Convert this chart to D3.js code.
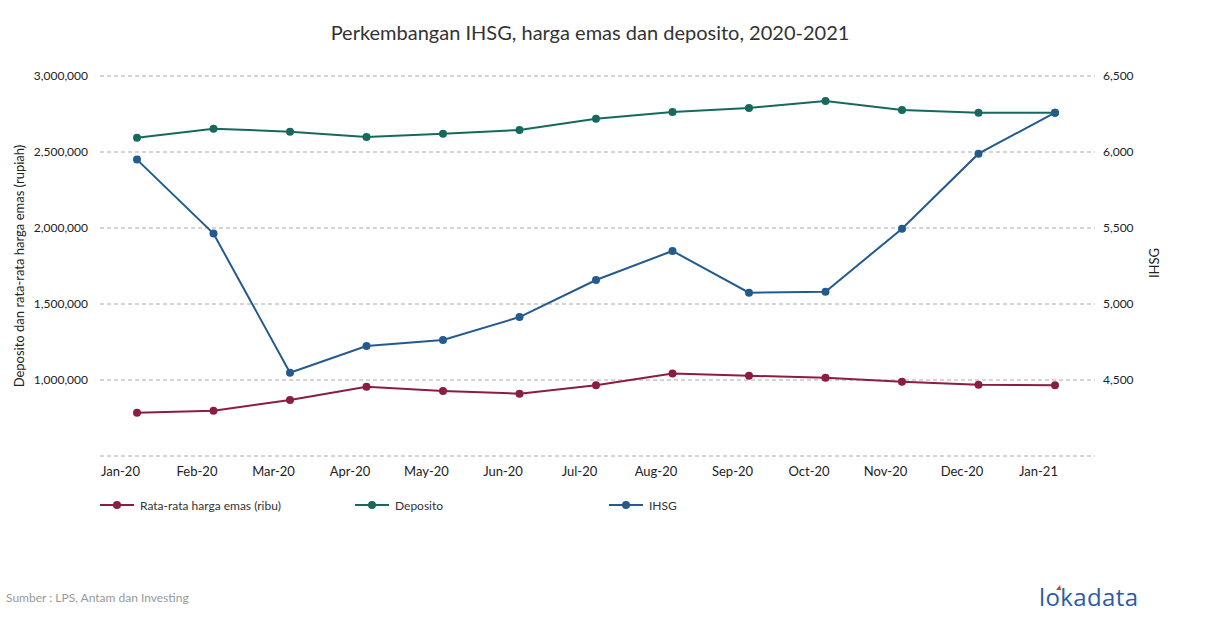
<!DOCTYPE html>
<html><head><meta charset="utf-8">
<script src="https://cdn.jsdelivr.net/npm/d3@7"></script>
<style>
body{margin:0;background:#fff;}
svg{font-family:Lato,"Open Sans",sans-serif;}
</style></head>
<body><svg id="c" width="1210" height="628"></svg>
<script>
const months = ["Jan-20","Feb-20","Mar-20","Apr-20","May-20","Jun-20","Jul-20","Aug-20","Sep-20","Oct-20","Nov-20","Dec-20","Jan-21"];
const emas = [785000,798000,868000,956000,928000,910000,965000,1042000,1028000,1015000,989000,969000,966000];
const deposito = [2594000,2653000,2634000,2599000,2620000,2645000,2719000,2763000,2790000,2836000,2776000,2759000,2758000];
const ihsg = [5950,5463,4548,4724,4763,4914,5158,5349,5074,5081,5495,5989,6259];
const leftTicks = [500000,1000000,1500000,2000000,2500000,3000000];
const rightTicks = [4000,4500,5000,5500,6000,6500];
const colors = {emas:"#8b1d41", deposito:"#17695e", ihsg:"#245b8f"};

const svg = d3.select("#c");
const x = d3.scalePoint().domain(months).range([137,1055]);
const yL = d3.scaleLinear().domain([500000,3000000]).range([456,76]);
const yR = d3.scaleLinear().domain([4000,6500]).range([456,76]);
const fmt = d3.format(",");

// title
svg.append("text").attr("x",590).attr("y",40).attr("text-anchor","middle")
  .attr("font-size",20).attr("fill","#333").text("Perkembangan IHSG, harga emas dan deposito, 2020-2021");

// grid
svg.append("g").selectAll("line").data(leftTicks).join("line")
  .attr("x1",100).attr("x2",1095).attr("y1",d=>yL(d)).attr("y2",d=>yL(d))
  .attr("stroke","#aaa").attr("stroke-dasharray","4,3").attr("stroke-width",1);

// left axis
const gL = svg.append("g").attr("transform","translate(100,0)")
  .call(d3.axisLeft(yL).tickValues(leftTicks).tickSize(0).tickPadding(12).tickFormat(d=>d===500000?"":fmt(d)));
gL.select(".domain").remove();
gL.selectAll("text").attr("font-size",12).attr("fill","#222").attr("font-family","Lato");

// right axis
const gR = svg.append("g").attr("transform","translate(1095,0)")
  .call(d3.axisRight(yR).tickValues(rightTicks).tickSize(0).tickPadding(8).tickFormat(d=>d===4000?"":fmt(d)));
gR.select(".domain").remove();
gR.selectAll("text").attr("font-size",12).attr("fill","#222").attr("font-family","Lato");

// x axis
const gX = svg.append("g").attr("transform","translate(-17,456)")
  .call(d3.axisBottom(x).tickSize(0).tickPadding(11));
gX.select(".domain").remove();
gX.selectAll("text").attr("font-size",13).attr("fill","#222").attr("font-family","Lato");

// axis titles
svg.append("text").attr("transform","translate(24,266) rotate(-90)").attr("text-anchor","middle")
  .attr("font-size",13).attr("fill","#222").text("Deposito dan rata-rata harga emas (rupiah)");
svg.append("text").attr("transform","translate(1159,263) rotate(-90)").attr("text-anchor","middle")
  .attr("font-size",13).attr("fill","#222").text("IHSG");

function series(vals, y, color){
  const line = d3.line().x((d,i)=>x(months[i])).y(d=>y(d));
  svg.append("path").datum(vals).attr("d",line).attr("fill","none")
    .attr("stroke",color).attr("stroke-width",2);
  svg.append("g").selectAll("circle").data(vals).join("circle")
    .attr("cx",(d,i)=>x(months[i])).attr("cy",d=>y(d)).attr("r",4).attr("fill",color);
}
series(emas, yL, colors.emas);
series(deposito, yL, colors.deposito);
series(ihsg, yR, colors.ihsg);

// legend
const legend = [
  {label:"Rata-rata harga emas (ribu)", color:colors.emas, x:100},
  {label:"Deposito", color:colors.deposito, x:355},
  {label:"IHSG", color:colors.ihsg, x:609}
];
const lg = svg.append("g").selectAll("g").data(legend).join("g")
  .attr("transform",d=>`translate(${d.x},505)`);
lg.append("line").attr("x1",0).attr("x2",34).attr("stroke",d=>d.color).attr("stroke-width",2);
lg.append("circle").attr("cx",17).attr("r",4).attr("fill",d=>d.color);
lg.append("text").attr("x",40).attr("y",4.5).attr("font-size",12).attr("fill","#333").text(d=>d.label);

// source
svg.append("text").attr("x",6).attr("y",602).attr("font-size",12).attr("fill","#999").text("Sumber : LPS, Antam dan Investing");

// logo
const logo = svg.append("g");
logo.append("text").attr("x",1039).attr("y",606).attr("font-size",24).attr("fill","#2b5da6")
  .attr("font-family","'Open Sans',sans-serif").attr("letter-spacing","0.4").text("lokadata");
logo.append("path").attr("d","M1056,590 l4,-5 l1,5 z").attr("fill","#e03a2f");
</script>
</body></html>
